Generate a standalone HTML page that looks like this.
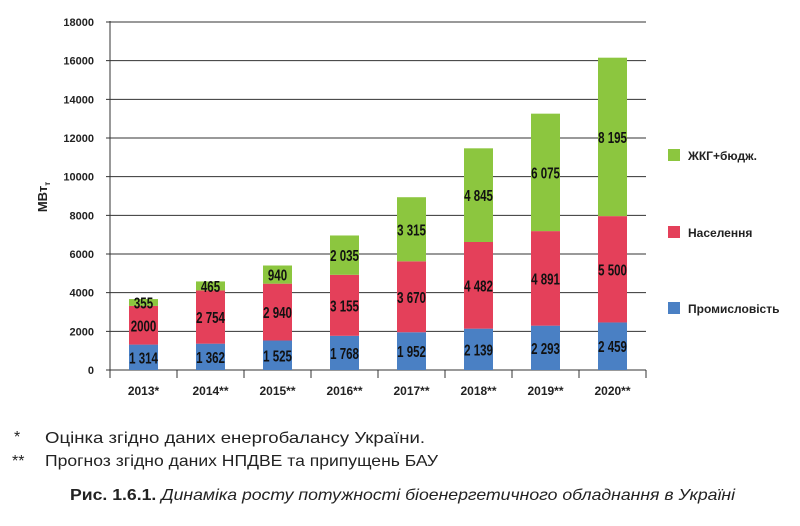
<!DOCTYPE html>
<html><head><meta charset="utf-8"><style>
body{margin:0;background:#fff;width:800px;height:521px;overflow:hidden}
svg text{font-family:"Liberation Sans",sans-serif}
</style></head><body>
<svg width="800" height="521" xmlns="http://www.w3.org/2000/svg">
<g id="grid" stroke="#333" stroke-width="1"></g>
<g id="bars"></g>
<g id="lab" font-size="16" font-weight="bold" fill="#111" text-anchor="middle"></g>
<g font-size="11" font-weight="bold" fill="#222" text-anchor="end" id="yl"></g>
<g font-size="12" font-weight="bold" fill="#222" text-anchor="middle" id="xl"></g>
<text transform="translate(47,197) rotate(-90)" font-size="13" font-weight="bold" fill="#222" text-anchor="middle">МВт<tspan font-size="8" dy="3">т</tspan></text>
<rect x="668" y="149" width="12" height="12" fill="#8cc63f"/>
<text x="688" y="160" font-size="12" font-weight="bold" fill="#222">ЖКГ+бюдж.</text>
<rect x="668" y="226" width="12" height="12" fill="#e4405a"/>
<text x="688" y="237" font-size="12" font-weight="bold" fill="#222">Населення</text>
<rect x="668" y="302" width="12" height="12" fill="#4a80c4"/>
<text x="688" y="313" font-size="12" font-weight="bold" fill="#222">Промисловість</text>
<text x="14" y="442" font-size="16" fill="#222">*</text>
<text x="45" y="443" font-size="16" fill="#222" textLength="380" lengthAdjust="spacingAndGlyphs">Оцінка згідно даних енергобалансу України.</text>
<text x="12" y="466" font-size="16" fill="#222">**</text>
<text x="45" y="466" font-size="16" fill="#222" textLength="393" lengthAdjust="spacingAndGlyphs">Прогноз згідно даних НПДВЕ та припущень БАУ</text>
<text x="70" y="500" font-size="16" fill="#222" textLength="665" lengthAdjust="spacingAndGlyphs"><tspan font-weight="bold">Рис. 1.6.1.</tspan> <tspan font-style="italic">Динаміка росту потужності біоенергетичного обладнання в Україні</tspan></text>
</svg>
<script>
const ns="http://www.w3.org/2000/svg";
function el(p,t,a,txt){const e=document.createElementNS(ns,t);for(const k in a)e.setAttribute(k,a[k]);if(txt!=null)e.textContent=txt;document.getElementById(p).appendChild(e);return e;}
const y0=370,s=348/18000;
for(let v=0;v<=18000;v+=2000){const y=y0-v*s;el("grid","line",{x1:106,x2:646,y1:y,y2:y});el("yl","text",{x:94,y:y+4},v);}
el("grid","line",{x1:110,x2:110,y1:21,y2:370});
for(let k=0;k<=8;k++){const x=110+67*k;el("grid","line",{x1:x,x2:x,y1:370,y2:378});}
const d=[[1314,2000,355,"1 314","2000","355","2013*"],[1362,2754,465,"1 362","2 754","465","2014**"],[1525,2940,940,"1 525","2 940","940","2015**"],[1768,3155,2035,"1 768","3 155","2 035","2016**"],[1952,3670,3315,"1 952","3 670","3 315","2017**"],[2139,4482,4845,"2 139","4 482","4 845","2018**"],[2293,4891,6075,"2 293","4 891","6 075","2019**"],[2459,5500,8195,"2 459","5 500","8 195","2020**"]];
const cols=["#4a80c4","#e4405a","#8cc63f"];
d.forEach((r,i)=>{const cx=143.5+67*i;let b=0;
for(let j=0;j<3;j++){const y1=y0-b*s,y2=y0-(b+r[j])*s;el("bars","rect",{x:cx-14.5,y:y2,width:29,height:y1-y2,fill:cols[j]});
el("lab","text",{x:0,y:0,transform:`translate(${cx},${(y1+y2)/2+6}) scale(0.72,1)`},r[j+3]);b+=r[j];}
el("xl","text",{x:cx,y:395},r[6]);});
</script>
</body></html>
